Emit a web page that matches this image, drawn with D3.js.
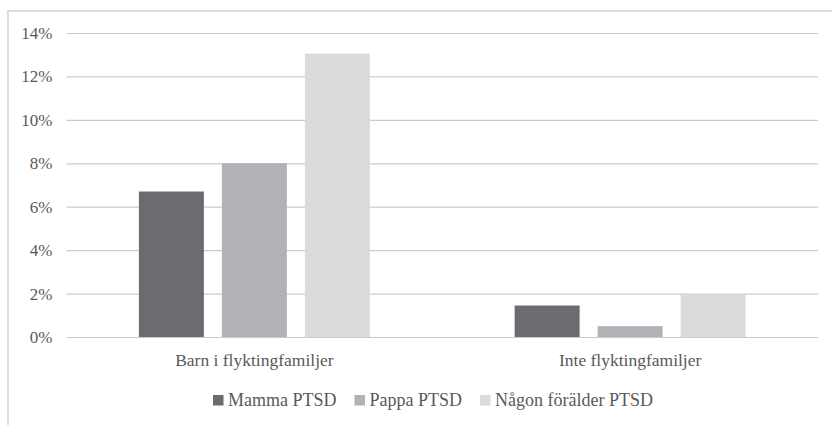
<!DOCTYPE html>
<html>
<head>
<meta charset="utf-8">
<script src="https://cdn.jsdelivr.net/npm/d3@7"></script>
<style>
  html, body { margin: 0; padding: 0; background: #fff; }
  svg text { font-family: "Liberation Serif", "DejaVu Serif", serif; fill: #595959; }
</style>
</head>
<body>
<svg id="chart" width="832" height="425"></svg>
<script>
// data
const categories = ["Barn i flyktingfamiljer", "Inte flyktingfamiljer"];
const seriesNames = ["Mamma PTSD", "Pappa PTSD", "Någon förälder PTSD"];
const mammaPTSD = [6.7, 1.45];
const pappaPTSD = [8.0, 0.5];
const nagonForalderPTSD = [13.05, 1.95];
const yTicks = [0, 2, 4, 6, 8, 10, 12, 14];

const colors = ["#6b6c70", "#b1b2b5", "#dadbdd"];
const seriesValues = [mammaPTSD, pappaPTSD, nagonForalderPTSD];

const svg = d3.select("#chart");
const margin = { left: 66.5, right: 14, top: 33, bottom: 88 };
const width = 832, height = 425;

// frame (right and bottom edges run off the picture)
svg.append("rect")
  .attr("x", 8).attr("y", 11)
  .attr("width", 900).attr("height", 500)
  .attr("fill", "none")
  .attr("stroke", "#dcdcdc")
  .attr("stroke-width", 2);

const x0 = d3.scaleBand()
  .domain(categories)
  .range([margin.left, width - margin.right])
  .padding(0);

const x1 = d3.scaleBand()
  .domain(seriesNames)
  .range([0, x0.bandwidth()])
  .paddingInner(0.217)
  .paddingOuter(0.872);

const y = d3.scaleLinear()
  .domain([0, 14])
  .range([height - margin.bottom, margin.top]);

// grid + y labels
const yAxis = svg.append("g")
  .attr("transform", `translate(${margin.left},0)`)
  .call(d3.axisLeft(y).tickValues(yTicks).tickSize(-(width - margin.left - margin.right)).tickPadding(14).tickFormat(d => d + "%"));
yAxis.select(".domain").remove();
yAxis.selectAll(".tick line").attr("stroke", "#cbcbcb").attr("stroke-width", 1.2);
yAxis.selectAll(".tick text")
  .attr("font-size", "17px")
  .attr("font-family", null)
  .attr("fill", "#595959");

// bars
const groups = svg.append("g").selectAll("g")
  .data(categories)
  .join("g")
  .attr("transform", d => `translate(${x0(d)},0)`);

groups.selectAll("rect")
  .data((c, ci) => seriesNames.map((s, si) => ({ s, si, v: seriesValues[si][ci] })))
  .join("rect")
  .attr("x", d => x1(d.s))
  .attr("width", x1.bandwidth())
  .attr("y", d => y(d.v))
  .attr("height", d => y(0) - y(d.v))
  .attr("fill", d => colors[d.si]);

// category labels
const xAxis = svg.append("g")
  .attr("transform", `translate(0,${y(0)})`)
  .call(d3.axisBottom(x0).tickSize(0).tickPadding(17));
xAxis.select(".domain").remove();
xAxis.selectAll(".tick text")
  .attr("font-size", "17.5px")
  .attr("font-family", null)
  .attr("fill", "#595959");

// legend
const legend = svg.append("g").attr("transform", "translate(0,406)");
const items = legend.selectAll("g")
  .data(seriesNames)
  .join("g");
items.append("rect")
  .attr("width", 10.5).attr("height", 10.5)
  .attr("y", -11)
  .attr("fill", (d, i) => colors[i]);
items.append("text")
  .attr("x", 15)
  .attr("font-size", "18px")
  .text(d => d);

let cursor = 0;
const offsets = [];
items.each(function () {
  offsets.push(cursor);
  const w = 15 + this.querySelector("text").getComputedTextLength();
  cursor += w + 18;
});
const total = cursor - 18;
const startX = 433 - total / 2;
items.attr("transform", (d, i) => `translate(${startX + offsets[i]},0)`);
</script>
</body>
</html>
